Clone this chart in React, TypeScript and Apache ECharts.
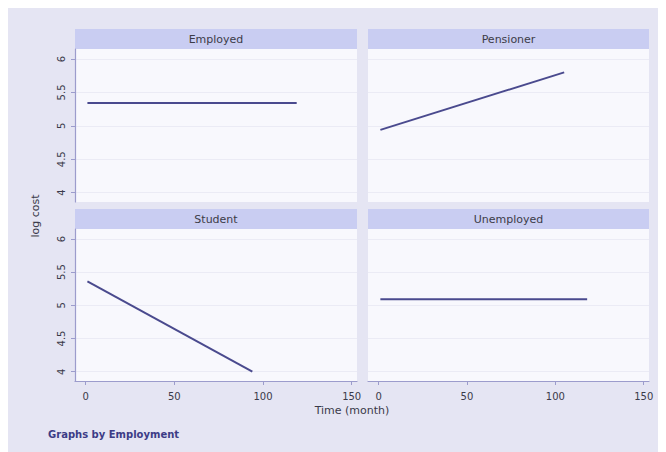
import React, { useEffect, useRef } from "react";
import * as echarts from "echarts";

// ---- data ----
const panelNames = ["Employed", "Pensioner", "Student", "Unemployed"];
const employedX = [1, 119];
const employedY = [5.34, 5.34];
const pensionerX = [1, 105];
const pensionerY = [4.94, 5.8];
const studentX = [1, 94];
const studentY = [5.36, 4.0];
const unemployedX = [1, 118];
const unemployedY = [5.09, 5.09];
const yTicks = [4, 4.5, 5, 5.5, 6];
const xTicks = [0, 50, 100, 150];
const yTitle = "log cost";
const xTitle = "Time (month)";
const note = "Graphs by Employment";

const seriesX = [employedX, pensionerX, studentX, unemployedX];
const seriesY = [employedY, pensionerY, studentY, unemployedY];

const FONT = "DejaVu Sans";
const AXIS_COLOR = "#9c9ccc";
const LINE_COLOR = "#4a4a8e";

// panel geometry (chart coords)
const cols = [
  { left: 67, width: 282 },
  { left: 360, width: 281 },
];
const rows = [
  { top: 41, height: 153, headTop: 21 },
  { top: 221, height: 152, headTop: 201 },
];

export default function App() {
  const ref = useRef<HTMLDivElement>(null);
  useEffect(() => {
    if (!ref.current) return;
    const chart = echarts.init(ref.current, undefined, { renderer: "svg" });
    const grids: any[] = [];
    const xAxes: any[] = [];
    const yAxes: any[] = [];
    const series: any[] = [];
    const graphics: any[] = [];
    for (let i = 0; i < 4; i++) {
      const r = Math.floor(i / 2);
      const c = i % 2;
      const col = cols[c];
      const row = rows[r];
      grids.push({
        left: col.left,
        top: row.top,
        width: col.width,
        height: row.height,
        show: true,
        backgroundColor: "#f8f8fd",
        borderWidth: 0,
      });
      const bottomRow = r === 1;
      const leftCol = c === 0;
      xAxes.push({
        type: "value",
        gridIndex: i,
        min: -6,
        max: 153,
        axisLine: { show: bottomRow, onZero: false, lineStyle: { color: AXIS_COLOR, width: 1.2 } },
        axisTick: { show: bottomRow, length: 4, customValues: xTicks, lineStyle: { color: AXIS_COLOR } },
        axisLabel: {
          show: bottomRow,
          customValues: xTicks,
          margin: 10,
          fontFamily: FONT,
          fontSize: 10,
          color: "#3a3a4a",
        },
        splitLine: { show: false },
      });
      yAxes.push({
        type: "value",
        gridIndex: i,
        min: 3.86,
        max: 6.15,
        axisLine: { show: leftCol, onZero: false, lineStyle: { color: AXIS_COLOR, width: 1.2 } },
        axisTick: { show: leftCol, length: 4, customValues: yTicks, lineStyle: { color: AXIS_COLOR } },
        axisLabel: {
          show: leftCol,
          customValues: yTicks,
          rotate: 90,
          margin: 9,
          fontFamily: FONT,
          fontSize: 10,
          color: "#3a3a4a",
        },
        splitLine: { show: true, lineStyle: { color: "#ebebf5", width: 1 } },
      });
      series.push({
        type: "line",
        xAxisIndex: i,
        yAxisIndex: i,
        showSymbol: false,
        data: seriesX[i].map((x, k) => [x, seriesY[i][k]]),
        lineStyle: { color: LINE_COLOR, width: 2 },
      });
      graphics.push({
        type: "rect",
        shape: { x: col.left, y: row.headTop, width: col.width, height: 20 },
        style: { fill: "#c9cdf2" },
        silent: true,
      });
      graphics.push({
        type: "text",
        x: col.left + col.width / 2,
        y: row.headTop + 10,
        style: {
          text: panelNames[i],
          fontFamily: FONT,
          fontSize: 11,
          fill: "#3c3c48",
          align: "center",
          verticalAlign: "middle",
        },
      });
    }
    graphics.push({
      type: "text",
      x: 27,
      y: 208,
      rotation: Math.PI / 2,
      style: {
        text: yTitle,
        fontFamily: FONT,
        fontSize: 11,
        fill: "#3a3a4a",
        align: "center",
        verticalAlign: "middle",
      },
    });
    graphics.push({
      type: "text",
      x: 344,
      y: 402,
      style: {
        text: xTitle,
        fontFamily: FONT,
        fontSize: 11,
        fill: "#3a3a4a",
        align: "center",
        verticalAlign: "middle",
      },
    });
    graphics.push({
      type: "text",
      x: 40,
      y: 426,
      style: {
        text: note,
        fontFamily: FONT,
        fontSize: 10,
        fontWeight: "bold",
        fill: "#3c3c86",
        align: "left",
        verticalAlign: "middle",
      },
    });
    chart.setOption({
      animation: false,
      backgroundColor: "#e5e5f3",
      grid: grids,
      xAxis: xAxes,
      yAxis: yAxes,
      series,
      graphic: graphics,
    });
    return () => chart.dispose();
  }, []);
  return <div ref={ref} style={{ width: 658, height: 444 }} />;
}
